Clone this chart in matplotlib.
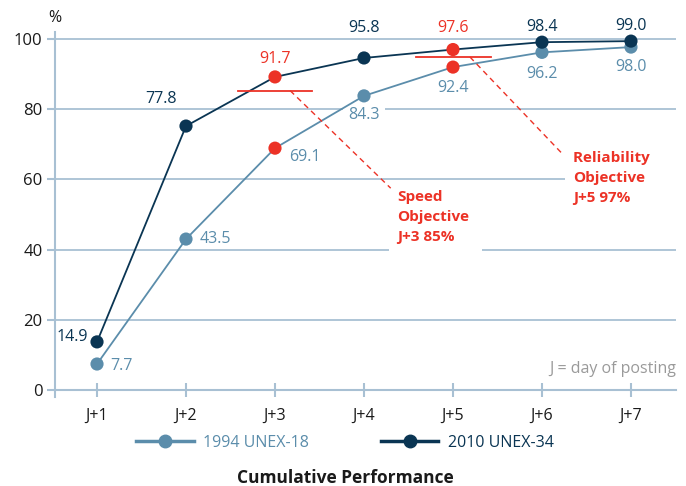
import matplotlib
matplotlib.use("Agg")
import matplotlib.pyplot as plt
from matplotlib.lines import Line2D

plt.rcParams['font.family'] = ['Open Sans', 'DejaVu Sans']

days = ["J+1", "J+2", "J+3", "J+4", "J+5", "J+6", "J+7"]
x = list(range(1, 8))
# positions as drawn in the chart
unex18 = [7.4, 43.0, 68.9, 83.8, 92.0, 96.2, 97.7]
unex34 = [13.7, 75.2, 89.2, 94.6, 97.0, 99.1, 99.4]
# printed labels
unex18_labels = ["7.7", "43.5", "69.1", "84.3", "92.4", "96.2", "98.0"]
unex34_labels = ["14.9", "77.8", "91.7", "95.8", "97.6", "98.4", "99.0"]
yticks = [0, 20, 40, 60, 80, 100]
speed_obj = 85.3
rel_obj = 94.9

DARK = "#0a3553"
LIGHT = "#5b8dab"
RED = "#ec3226"
GRID = "#a8c0d3"
FS = 11.5
NB = "\u00a0"

fig = plt.figure(figsize=(6.86, 4.86), dpi=100)
ax = fig.add_axes([55/686, 89/486, 621/686, 365/486])
ax.set_xlim(0.528, 7.506)
ax.set_ylim(-2, 102)

for s in ["top", "right"]:
    ax.spines[s].set_visible(False)
ax.spines["left"].set_color(GRID)
ax.spines["left"].set_linewidth(1.5)
ax.spines["bottom"].set_color(GRID)
ax.spines["bottom"].set_linewidth(1.5)
ax.spines["bottom"].set_position(("data", 0))
ax.spines["left"].set_zorder(0.6)

ax.set_yticks(yticks)
ax.set_yticklabels([str(v) for v in yticks], fontsize=FS + 0.5, color="#1a1a1a")
ax.set_xticks(x)
ax.set_xticklabels(days, fontsize=FS, color="#1a1a1a")
ax.tick_params(axis="y", direction="out", length=6, width=1.5, color=GRID, pad=3)
ax.tick_params(axis="x", direction="inout", length=10, width=1.5, color=GRID, pad=8)
for v in yticks[1:]:
    ax.axhline(v, color=GRID, lw=1.3, zorder=0.5)

# series lines
ax.plot(x, unex18, color=LIGHT, lw=1.3, zorder=3)
ax.plot(x, unex34, color=DARK, lw=1.3, zorder=3)
c18 = [RED if d in ("J+3", "J+5") else LIGHT for d in days]
c34 = [RED if d in ("J+3", "J+5") else DARK for d in days]
ax.scatter(x, unex18, s=90, c=c18, zorder=4, linewidths=0)
ax.scatter(x, unex34, s=90, c=c34, zorder=4, linewidths=0)

# labels
off34 = [(-9, 5, "right"), (-25, 27, "center"), (0, 18, "center"), (0, 30, "center"),
         (0, 22, "center"), (0, 15, "center"), (0, 15, "center")]
off18 = [(13, -2, "left"), (14, 0, "left"), (14, -9, "left"), (0, -19, "center"),
         (0, -21, "center"), (0, -22, "center"), (0, -20, "center")]
for xi, yi, lab, (dx, dy, ha), col in zip(x, unex34, unex34_labels, off34, c34):
    ax.annotate(lab, (xi, yi), xytext=(dx, dy), textcoords="offset pixels",
                ha=ha, va="center", fontsize=FS, color=col, zorder=2)
for d, xi, yi, lab, (dx, dy, ha) in zip(days, x, unex18, unex18_labels, off18):
    bb = dict(facecolor="white", edgecolor="none", pad=4) if d == "J+4" else None
    ax.annotate(lab, (xi, yi), xytext=(dx, dy), textcoords="offset pixels",
                ha=ha, va="center", fontsize=FS, color=LIGHT, zorder=2, bbox=bb)

# objectives
ax.plot([3 - 0.42, 3 + 0.42], [speed_obj, speed_obj], color=RED, lw=1.3, zorder=3)
ax.plot([5 - 0.42, 5 + 0.43], [rel_obj, rel_obj], color=RED, lw=1.3, zorder=3)
ax.plot([3.17, 4.30], [speed_obj, 57.5], color=RED, lw=1, ls=(0, (4, 3)), zorder=3)
ax.plot([5.19, 6.24], [rel_obj, 67.0], color=RED, lw=1, ls=(0, (4, 3)), zorder=3)
ax.text(4.37, 57.0, "Speed\nObjective\nJ+3 85%" + NB * 5, color=RED, fontsize=11,
        fontweight="bold", ha="left", va="top", linespacing=1.55, zorder=2,
        bbox=dict(boxstyle="square,pad=0.5", facecolor="white", edgecolor="none"))
ax.text(6.35, 68.0, "Reliability" + NB * 6 + "\nObjective\nJ+5 97%", color=RED, fontsize=11,
        fontweight="bold", ha="left", va="top", linespacing=1.55, zorder=2,
        bbox=dict(boxstyle="square,pad=0.5", facecolor="white", edgecolor="none"))

ax.text(1.0, 6.0, "J = day of posting", transform=ax.get_yaxis_transform(),
        ha="right", va="center", fontsize=FS, color="#9a9a9a")
fig.text(55/686, 1 - 18/486, "%", ha="center", va="center", fontsize=FS, color="#1a1a1a")

handles = [Line2D([], [], color=LIGHT, lw=2.5, marker="o", markersize=9),
           Line2D([], [], color=DARK, lw=2.5, marker="o", markersize=9)]
leg = fig.legend(handles, ["1994 UNEX-18", "2010 UNEX-34"], loc="center",
                 bbox_to_anchor=(345/686, 1 - 443/486), ncol=2, frameon=False,
                 fontsize=FS, handlelength=3.6, columnspacing=4.5, handletextpad=0.6)
for t, c in zip(leg.get_texts(), [LIGHT, DARK]):
    t.set_color(c)

fig.text(345/686, 1 - 478/486, "Cumulative Performance", ha="center", va="center",
         fontsize=12.5, fontweight="bold", color="#1a1a1a")

fig.savefig("out.png", dpi=100)
